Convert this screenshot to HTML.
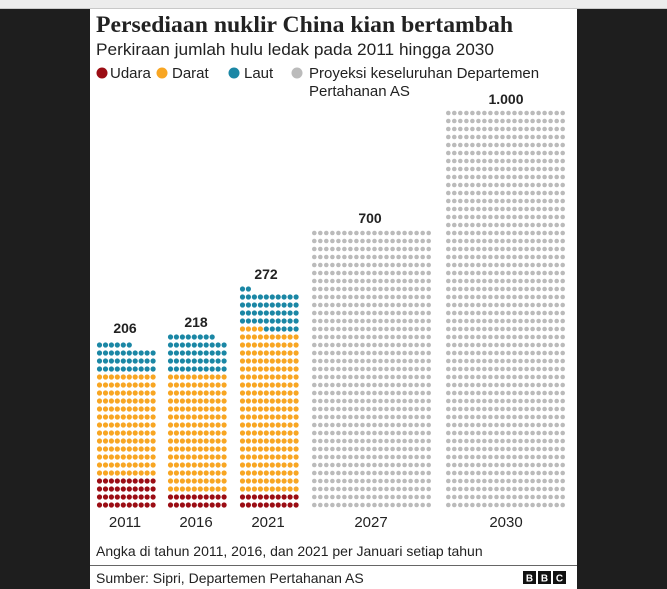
<!DOCTYPE html>
<html><head><meta charset="utf-8"><style>
html,body{margin:0;padding:0;width:667px;height:589px;overflow:hidden;background:#1e1e1e;font-family:"Liberation Sans",sans-serif;}
#top{position:absolute;left:0;top:0;width:667px;height:8px;background:#ececec;border-bottom:1px solid #c8c8c8;}
#panel{position:absolute;left:90px;top:9px;width:487px;height:580px;background:#fff;}
svg{position:absolute;left:0;top:0;}
</style></head><body>
<div id="top"></div>
<div id="panel"></div>
<svg width="667" height="589" xmlns="http://www.w3.org/2000/svg" id="s">
<text x="96" y="32" font-family="Liberation Serif,serif" font-size="23" font-weight="bold" fill="#222" textLength="417" lengthAdjust="spacingAndGlyphs">Persediaan nuklir China kian bertambah</text>
<text x="96" y="55" font-size="17" fill="#222" textLength="398" lengthAdjust="spacingAndGlyphs">Perkiraan jumlah hulu ledak pada 2011 hingga 2030</text>
<circle cx="102" cy="73" r="5.5" fill="#9b0d14"/><text x="110" y="78" font-size="15" fill="#222">Udara</text>
<circle cx="162" cy="73" r="5.5" fill="#f8a623"/><text x="172" y="78" font-size="15" fill="#222">Darat</text>
<circle cx="234" cy="73" r="5.5" fill="#1b87a5"/><text x="244" y="78" font-size="15" fill="#222">Laut</text>
<circle cx="297" cy="73" r="5.5" fill="#bbb"/><text x="309" y="78" font-size="15" fill="#222">Proyeksi keseluruhan Departemen</text>
<text x="309" y="96" font-size="15" fill="#222">Pertahanan AS</text>
<g font-size="14" font-weight="bold" fill="#222" text-anchor="middle">
<text x="125" y="333">206</text><text x="196" y="327">218</text><text x="266" y="279">272</text><text x="370" y="223">700</text><text x="506" y="104">1.000</text>
</g>
<g font-size="15" fill="#222" text-anchor="middle">
<text x="125" y="527">2011</text><text x="196" y="527">2016</text><text x="268" y="527">2021</text><text x="371" y="527">2027</text><text x="506" y="527">2030</text>
</g>
<text x="96" y="556" font-size="14" fill="#222">Angka di tahun 2011, 2016, dan 2021 per Januari setiap tahun</text>
<rect x="90" y="565" width="487" height="1" fill="#666"/>
<text x="96" y="583" font-size="14" fill="#222">Sumber: Sipri, Departemen Pertahanan AS</text>
<g font-size="10" font-weight="bold" fill="#fff" text-anchor="middle">
<rect x="523" y="571" width="13" height="13" fill="#111"/><text x="529.5" y="581.5">B</text>
<rect x="538" y="571" width="13" height="13" fill="#111"/><text x="544.5" y="581.5">B</text>
<rect x="553" y="571" width="13" height="13" fill="#111"/><text x="559.5" y="581.5">C</text>
</g>
<g id="dots"></g>
</svg>
<script>
var g=document.getElementById('dots'),h='';
var R='#9b0d14',O='#f8a623',B='#1b87a5',G='#bbbbbb';
function col(x0,seq,r){var i=0;for(var k=0;k<seq.length;k++){var c=seq[k][0],n=seq[k][1];for(var j=0;j<n;j++){var row=Math.floor(i/10),cc=i%10;h+='<circle cx="'+(x0+2.5+cc*5.95).toFixed(1)+'" cy="'+(505-row*8)+'" r="'+r+'" fill="'+c+'"/>';i++;}}}
col(97,[[R,40],[O,130],[B,36]],2.6);
col(168,[[R,20],[O,150],[B,48]],2.6);
col(240,[[R,20],[O,204],[B,48]],2.6);
function grid(x0,rows){for(var r=0;r<rows;r++)for(var c=0;c<20;c++)h+='<circle cx="'+(x0+2.3+c*6.02).toFixed(1)+'" cy="'+(505-r*8)+'" r="2.3" fill="'+G+'"/>';}
grid(312,35);grid(446,50);
g.innerHTML=h;
</script>
</body></html>
